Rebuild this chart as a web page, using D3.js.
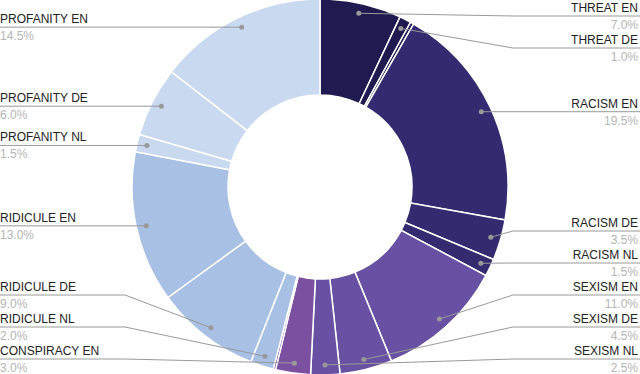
<!DOCTYPE html>
<html lang="en">
<head>
  <meta charset="UTF-8">
  <script src="https://cdn.jsdelivr.net/npm/d3@7"></script>
  <title>Donut</title>
  <style>
    body { margin: 0; background: #fff; }
    svg { display: block; font-family: "Liberation Sans", Arial, sans-serif; }
  </style>
</head>
<body>
  <svg width="640" height="374" id="chart"></svg>
  <script>
    // slices, clockwise from 12 o'clock
    const categories = ["THREAT EN", "THREAT DE", "THREAT NL", "RACISM EN", "RACISM DE", "RACISM NL",
      "SEXISM EN", "SEXISM DE", "SEXISM NL", "CONSPIRACY EN", "CONSPIRACY DE",
      "RIDICULE NL", "RIDICULE DE", "RIDICULE EN", "PROFANITY NL", "PROFANITY DE", "PROFANITY EN"];
    const values = [7.0, 1.0, 0.3, 19.5, 3.5, 1.5, 11.0, 4.5, 2.5, 3.0, 0.2, 2.0, 9.0, 13.0, 1.5, 6.0, 14.5];
    const labelled = [true, true, false, true, true, true, true, true, true, true, false, true, true, true, true, true, true];
    const groups = ["THREAT", "RACISM", "SEXISM", "CONSPIRACY", "RIDICULE", "PROFANITY"];
    const groupColors = ["#1f1a4f", "#342a70", "#6850a2", "#7b50a0", "#a8c0e4", "#c9daf0"];

    let data = categories.map((c, i) => ({name: c, value: values[i], group: c.split(" ")[0], show: labelled[i]}));

    let svg = d3.select("#chart");
    let cx = 320, cy = 187;
    let color = d3.scaleOrdinal().domain(groups).range(groupColors);

    let pie = d3.pie().value(d => d.value).sort(null);
    let arc = d3.arc().innerRadius(92).outerRadius(188);
    let dotArc = d3.arc().innerRadius(178).outerRadius(178);

    let g = svg.append("g").attr("transform", `translate(${cx},${cy})`);
    let arcs = pie(data);

    g.selectAll("path")
      .data(arcs)
      .enter()
      .append("path")
      .attr("d", arc)
      .attr("fill", d => color(d.data.group))
      .attr("stroke", "#fff")
      .attr("stroke-width", 1.5);

    /* LABELS */
    let labels = arcs.filter(a => a.data.show).map(a => {
      let p = dotArc.centroid(a);
      let mid = (a.startAngle + a.endAngle) / 2;
      return {name: a.data.name, value: a.data.value, dx: p[0] + cx, dy: p[1] + cy, right: mid < Math.PI, y: p[1] + cy};
    });

    // push labels apart on each side: down from the top, then up from the bottom
    let gap = 32, minY = 16, maxY = 359;
    [true, false].forEach(side => {
      let list = labels.filter(l => l.right === side).sort((a, b) => a.y - b.y);
      list.forEach(l => { l.y = Math.max(minY, l.y); });
      for (let i = 1; i < list.length; i++) {
        list[i].y = Math.max(list[i].y, list[i - 1].y + gap);
      }
      list.forEach(l => { l.y = Math.min(maxY, l.y); });
      for (let i = list.length - 2; i >= 0; i--) {
        list[i].y = Math.min(list[i].y, list[i + 1].y - gap);
      }
    });

    let lg = svg.append("g");
    labels.forEach(l => {
      let elbow = l.right ? 513 : 125;
      let edge = l.right ? 640 : 0;
      let ex = l.right ? Math.max(elbow, l.dx) : Math.min(elbow, l.dx);
      lg.append("polyline")
        .attr("points", `${edge},${l.y} ${ex},${l.y} ${l.dx},${l.dy}`)
        .attr("fill", "none")
        .attr("stroke", "#999")
        .attr("stroke-width", 1);
      lg.append("circle")
        .attr("cx", l.dx)
        .attr("cy", l.dy)
        .attr("r", 2.5)
        .attr("fill", "#999");
      let tx = l.right ? 638 : 0;
      let anchor = l.right ? "end" : "start";
      lg.append("text")
        .text(l.name)
        .attr("x", tx)
        .attr("y", l.y - 4)
        .attr("text-anchor", anchor)
        .attr("font-size", 12)
        .attr("fill", "#222");
      lg.append("text")
        .text(l.value.toFixed(1) + "%")
        .attr("x", tx)
        .attr("y", l.y + 13)
        .attr("text-anchor", anchor)
        .attr("font-size", 12)
        .attr("fill", "#b5b5b5");
    });
  </script>
</body>
</html>
